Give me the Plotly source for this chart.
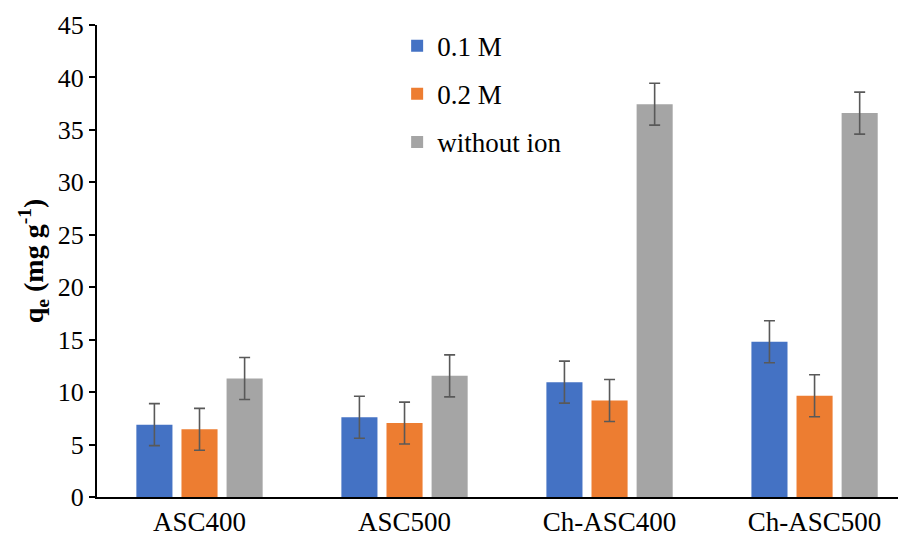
import plotly.graph_objects as go

categories = ["ASC400", "ASC500", "Ch-ASC400", "Ch-ASC500"]
series_names = ["0.1 M", "0.2 M", "without ion"]
vals_01M = [6.9, 7.6, 10.95, 14.8]
vals_02M = [6.45, 7.05, 9.2, 9.65]
vals_without = [11.3, 11.55, 37.45, 36.6]
err_01M = [2, 2, 2, 2]
err_02M = [2, 2, 2, 2]
err_without = [2, 2, 2, 2]
colors = ["#4472C4", "#ED7D31", "#A5A5A5"]
y_ticks = [0, 5, 10, 15, 20, 25, 30, 35, 40, 45]

font_fam = "Liberation Serif"
fig = go.Figure()
for i, (name, vals, errs) in enumerate(zip(series_names, [vals_01M, vals_02M, vals_without],
                                           [err_01M, err_02M, err_without])):
    fig.add_trace(go.Bar(
        x=list(range(len(categories))), y=vals, name=name,
        marker=dict(color=colors[i], line=dict(width=0)),
        error_y=dict(type="data", array=errs, visible=True, color="#595959",
                     thickness=1.6, width=5.5),
        legendgroup=f"g{i}",
    ))

fig.update_layout(
    width=906, height=543,
    margin=dict(l=89, r=8, t=17, b=54, autoexpand=False),
    paper_bgcolor="white", plot_bgcolor="white",
    barmode="group", bargap=0.34, bargroupgap=0.2,
    font=dict(family=font_fam, size=25, color="black"),
    showlegend=True,
    legend=dict(x=0.371, y=1.007, xanchor="left", yanchor="top",
                font=dict(family=font_fam, size=27, color="black"),
                bgcolor="rgba(0,0,0,0)", tracegroupgap=10, itemwidth=30),
    xaxis=dict(tickmode="array", tickvals=list(range(len(categories))), ticktext=categories,
               range=[-0.5, 3.446], showline=True, linecolor="black", linewidth=2,
               ticks="", showgrid=False, zeroline=False, automargin=False,
               tickfont=dict(family=font_fam, size=27, color="black")),
    yaxis=dict(range=[0, 45], tickvals=y_ticks, showline=True, linecolor="black", linewidth=2,
               ticks="outside", ticklen=6, tickwidth=1.5, tickcolor="black",
               showgrid=False, zeroline=False, automargin=False,
               tickfont=dict(family=font_fam, size=26, color="black"),
               title=dict(text="<b>q<sub>e</sub> (mg g<sup>-1</sup>)</b>",
                          font=dict(family=font_fam, size=28, color="black"), standoff=6)),
)

fig.write_html("out.html")
